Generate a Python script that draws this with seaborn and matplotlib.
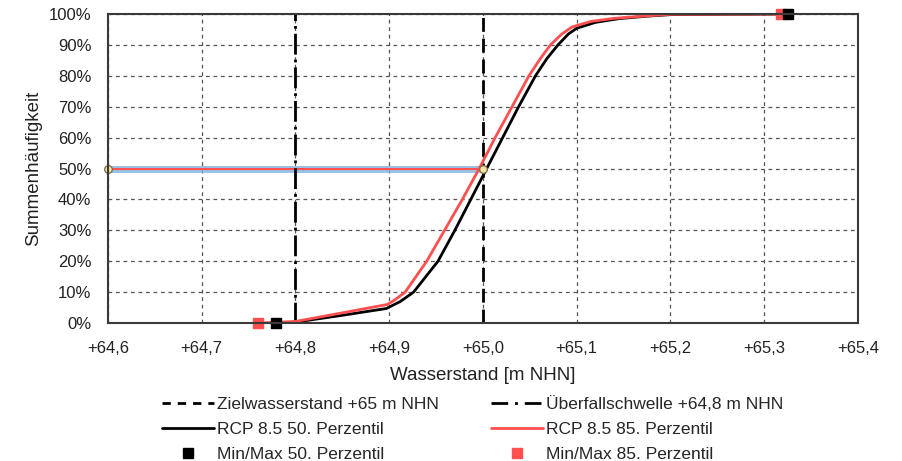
import numpy as np
import pandas as pd
import matplotlib
matplotlib.use("Agg")
import matplotlib.pyplot as plt
from matplotlib.lines import Line2D
import seaborn as sns

# RCP 8.5 50. Perzentil (Wasserstand in m NHN, Summenhaeufigkeit in %)
x_p50 = [64.779, 64.800, 64.850, 64.897, 64.912, 64.926, 64.952, 64.970, 64.987, 65.004,
         65.021, 65.038, 65.056, 65.068, 65.080, 65.091, 65.100, 65.120, 65.145, 65.175,
         65.200, 65.325]
y_p50 = [0, 0.3, 2.5, 4.7, 7, 10, 20, 30, 40, 50,
         60, 70, 80, 85.5, 90, 93.5, 95.4, 97.3, 98.5, 99.3,
         99.8, 100]

# RCP 8.5 85. Perzentil
x_p85 = [64.760, 64.800, 64.850, 64.898, 64.906, 64.917, 64.940, 64.959, 64.978, 64.996,
         65.013, 65.031, 65.049, 65.061, 65.072, 65.084, 65.095, 65.115, 65.140, 65.175,
         65.200, 65.318]
y_p85 = [0, 0.5, 3.3, 6.0, 7.5, 10, 20, 30, 40, 50,
         60, 70, 80, 85.5, 90, 93.5, 95.8, 97.6, 98.6, 99.4,
         99.9, 100]

# Min/Max
minmax_p50 = ([64.779, 65.325], [0, 100])
minmax_p85 = ([64.760, 65.318], [0, 100])

ziel = 65.0
schwelle = 64.8
marker_50 = ([64.6, 65.0], [50, 50])

x_ticks = [64.6, 64.7, 64.8, 64.9, 65.0, 65.1, 65.2, 65.3, 65.4]
y_ticks = [0, 10, 20, 30, 40, 50, 60, 70, 80, 90, 100]

red = "#ff4f4f"

sns.set_style("white")
plt.rcParams["font.family"] = ["Liberation Sans", "DejaVu Sans"]

fig = plt.figure(figsize=(9.02, 4.61), dpi=100)
ax = fig.add_axes([0.1197, 0.2993, 0.8315, 0.6703])

# 50 % Hilfslinie
ax.plot(marker_50[0], marker_50[1], color="#7fb3e0", lw=5, alpha=0.8, zorder=3)
ax.plot(marker_50[0], marker_50[1], color=red, lw=1.5, zorder=3.5)
ax.plot(marker_50[0], marker_50[1], ls="none", marker="o", ms=5.5,
        mfc="#f5e6a8", mec="#7a6a40", mew=0.9, zorder=6, clip_on=False)

ax.axvline(ziel, color="black", lw=2, ls=(0, (5, 2.5)), zorder=4)
ax.axvline(schwelle, color="black", lw=2, ls=(0, (7.5, 1.8, 1, 1.8)), zorder=4)

df50 = pd.DataFrame({"x": x_p50, "y": y_p50})
df85 = pd.DataFrame({"x": x_p85, "y": y_p85})
sns.lineplot(data=df50, x="x", y="y", sort=False, estimator=None, color="black", lw=2, ax=ax, zorder=5)
sns.lineplot(data=df85, x="x", y="y", sort=False, estimator=None, color=red, lw=2, ax=ax, zorder=5.5)

ax.plot(minmax_p50[0], minmax_p50[1], ls="none", marker="s", ms=7.5, color="black", zorder=7, clip_on=False)
ax.plot(minmax_p85[0], minmax_p85[1], ls="none", marker="s", ms=7.5, color=red, zorder=6.5, clip_on=False)

ax.set_xlim(64.6, 65.4)
ax.set_ylim(0, 100)
ax.set_xticks(x_ticks)
ax.set_xticklabels(["+" + f"{v:.1f}".replace(".", ",") for v in x_ticks])
ax.set_yticks(y_ticks)
ax.set_yticklabels([f"{v}%" for v in y_ticks])
ax.tick_params(axis="both", length=0, labelsize=12, colors="#222222")
ax.tick_params(axis="y", pad=12)
ax.tick_params(axis="x", pad=13)

ax.grid(True, color="#555555", lw=0.9, ls=(0, (3, 3)))
for s in ax.spines.values():
    s.set_color("#3a3a3a")
    s.set_linewidth(1.5)
    s.set_zorder(8)

ax.set_xlabel("Wasserstand [m NHN]", fontsize=13.5, color="#222222", labelpad=8)
ax.set_ylabel("Summenhäufigkeit", fontsize=13.5, color="#222222")
ax.yaxis.set_label_coords(-0.088, 0.5)

handles = [
    Line2D([], [], color="black", lw=2, ls=(0, (3, 2.5))),
    Line2D([], [], color="black", lw=2),
    Line2D([], [], ls="none", marker="s", ms=7.5, color="black"),
    Line2D([], [], color="black", lw=2, ls=(0, (6, 2.5, 1, 2.5))),
    Line2D([], [], color=red, lw=2),
    Line2D([], [], ls="none", marker="s", ms=7.5, color=red),
]
labels = [
    "Zielwasserstand +65 m NHN",
    "RCP 8.5 50. Perzentil",
    "Min/Max 50. Perzentil",
    "Überfallschwelle +64,8 m NHN",
    "RCP 8.5 85. Perzentil",
    "Min/Max 85. Perzentil",
]
fig.legend(handles, labels, loc="upper center", bbox_to_anchor=(0.524, 0.155),
           ncol=2, frameon=False, fontsize=12.5, handlelength=3.0, handletextpad=0.15,
           columnspacing=3.0, labelspacing=0.55, numpoints=1, borderaxespad=0)

fig.savefig("out.png", dpi=100)
